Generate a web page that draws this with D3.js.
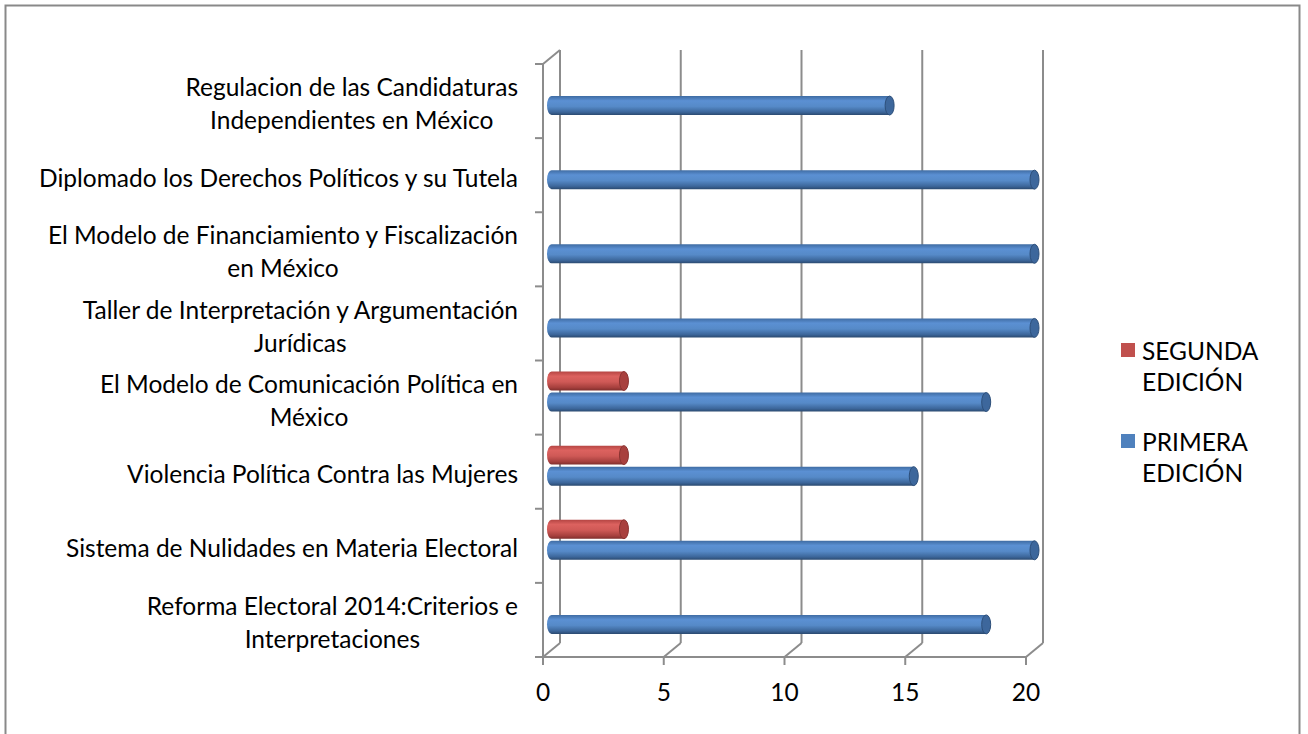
<!DOCTYPE html>
<html>
<head>
<meta charset="utf-8">
<script src="https://cdn.jsdelivr.net/npm/d3@7"></script>
<style>
  html, body { margin: 0; padding: 0; background: #fff; }
  svg text { font-family: Lato, "Open Sans", sans-serif; fill: #000; }
</style>
</head>
<body>
<div id="chart"></div>
<script>
// categories, top to bottom as they appear
const categories = [
  "Regulacion de las Candidaturas Independientes en México",
  "Diplomado los Derechos Políticos y su Tutela",
  "El Modelo de Financiamiento y Fiscalización en México",
  "Taller de Interpretación y Argumentación Jurídicas",
  "El Modelo de Comunicación Política en México",
  "Violencia Política Contra las Mujeres",
  "Sistema de Nulidades en Materia Electoral",
  "Reforma Electoral 2014:Criterios e Interpretaciones"
];
const primera = [14, 20, 20, 20, 18, 15, 20, 18];
const segunda = [0, 0, 0, 0, 3, 3, 3, 0];
const seriesNames = ["SEGUNDA EDICIÓN", "PRIMERA EDICIÓN"];
const xTicks = [0, 5, 10, 15, 20];

const W = 1308, H = 734;
const fontSize = 24.5;
const depth = { dx: 17, dy: -14 };

const svg = d3.select("#chart").append("svg")
  .attr("width", W).attr("height", H);

// outer chart border (bottom edge falls outside the frame)
svg.append("rect")
  .attr("x", 5.5).attr("y", 5.5).attr("width", 1294).attr("height", 800)
  .attr("fill", "none").attr("stroke", "#898989").attr("stroke-width", 2);

const x = d3.scaleLinear().domain([0, 20]).range([543, 1026]);
const y = d3.scaleBand().domain(categories).range([64, 657]);
// position of the two series inside a category band
const ySub = d3.scaleBand().domain(["segunda", "primera"]).range([11, 51]).paddingInner(0.1);

const defs = svg.append("defs");
function cylGrad(id, stops) {
  const g = defs.append("linearGradient").attr("id", id)
    .attr("x1", 0).attr("y1", 0).attr("x2", 0).attr("y2", 1);
  stops.forEach(s => g.append("stop").attr("offset", s[0]).attr("stop-color", s[1]));
}
cylGrad("gBlue", [[0, "#3f6ca3"], [0.25, "#5b90d3"], [0.55, "#568ac8"], [0.85, "#3c669a"], [1, "#2b4a70"]]);
cylGrad("gRed", [[0, "#b54543"], [0.25, "#dc625f"], [0.55, "#cf5956"], [0.85, "#a53f3d"], [1, "#7f2e2c"]]);

const grid = svg.append("g").attr("stroke", "#8c8c8c").attr("stroke-width", 2).attr("fill", "none");
const yTop = y.range()[0], yBot = y.range()[1];

// back wall gridlines
grid.selectAll(".vg").data(xTicks).join("line")
  .attr("x1", d => x(d) + depth.dx).attr("x2", d => x(d) + depth.dx)
  .attr("y1", yTop + depth.dy).attr("y2", yBot + depth.dy);
// floor diagonals
grid.selectAll(".fd").data(xTicks).join("line")
  .attr("x1", d => x(d)).attr("y1", yBot)
  .attr("x2", d => x(d) + depth.dx).attr("y2", yBot + depth.dy);
// floor front edge and value ticks
grid.append("line").attr("x1", x(0)).attr("x2", x(20)).attr("y1", yBot).attr("y2", yBot);
grid.selectAll(".xt").data(xTicks).join("line")
  .attr("x1", d => x(d)).attr("x2", d => x(d)).attr("y1", yBot).attr("y2", yBot + 8);
// side wall front edge, top edge, category ticks
grid.append("line").attr("x1", x(0)).attr("x2", x(0)).attr("y1", yTop).attr("y2", yBot);
grid.append("line").attr("x1", x(0)).attr("y1", yTop)
  .attr("x2", x(0) + depth.dx).attr("y2", yTop + depth.dy);
const bounds = categories.map(c => y(c)).concat([yBot]);
grid.selectAll(".yt").data(bounds).join("line")
  .attr("x1", x(0) - 8).attr("x2", x(0)).attr("y1", d => d).attr("y2", d => d);

// cylinders
const rows = categories.map((c, i) => ({ c, primera: primera[i], segunda: segunda[i] }));
const barsData = [];
rows.forEach(r => {
  if (r.segunda > 0) barsData.push({ c: r.c, key: "segunda", v: r.segunda });
  if (r.primera > 0) barsData.push({ c: r.c, key: "primera", v: r.primera });
});
const h = ySub.bandwidth(), rx = 4.5;
const mid = depth.dx / 2;
const bars = svg.append("g").selectAll("g").data(barsData).join("g");
bars.append("path")
  .attr("d", d => {
    const x0 = x(0) + mid, x1 = x(d.v) + mid, yt = y(d.c) + ySub(d.key);
    return `M${x0},${yt} L${x1},${yt} L${x1},${yt + h} L${x0},${yt + h} A${rx},${h / 2} 0 0 1 ${x0},${yt} Z`;
  })
  .attr("fill", d => d.key === "primera" ? "url(#gBlue)" : "url(#gRed)");
bars.append("ellipse")
  .attr("cx", d => x(d.v) + mid)
  .attr("cy", d => y(d.c) + ySub(d.key) + h / 2)
  .attr("rx", rx).attr("ry", h / 2)
  .attr("fill", d => d.key === "primera" ? "#3d679c" : "#a8403e")
  .attr("stroke", d => d.key === "primera" ? "#2d4f7a" : "#8a3331")
  .attr("stroke-width", 1);

// value axis labels
svg.append("g").selectAll("text").data(xTicks).join("text")
  .attr("x", d => x(d)).attr("y", 701)
  .attr("text-anchor", "middle").attr("font-size", fontSize)
  .text(d => d);

// category labels, wrapped and centred like the original
const maxW = 500, labelRight = 518;
const labels = svg.append("g").selectAll("text").data(categories).join("text")
  .attr("text-anchor", "middle").attr("font-size", fontSize);
labels.each(function (c) {
  const t = d3.select(this);
  const words = c.split(" ");
  const lines = [];
  let line = [];
  const probe = t.append("tspan");
  const measure = s => { probe.text(s); return this.getComputedTextLength(); };
  words.forEach(w => {
    const test = line.concat([w]).join(" ");
    if (measure(test) > maxW && line.length) {
      lines.push(line.join(" "));
      line = [w];
    } else line = line.concat([w]);
  });
  lines.push(line.join(" "));
  const blockW = d3.max(lines, measure);
  probe.remove();
  const lh = 33;
  const cy = y(c) + y.bandwidth() / 2 + 3;
  lines.forEach((l, i) => {
    t.append("tspan").attr("x", labelRight - blockW / 2)
      .attr("y", cy - (lines.length - 1) * lh / 2 + i * lh)
      .attr("dy", "0.35em").text(l);
  });
});

// legend
const legend = svg.append("g").attr("font-size", fontSize);
const legendItems = [
  { name: seriesNames[0], color: "#c0504d", y: 343 },
  { name: seriesNames[1], color: "#4f81bd", y: 434 }
];
legendItems.forEach(it => {
  legend.append("rect").attr("x", 1121).attr("y", it.y).attr("width", 14).attr("height", 14)
    .attr("fill", it.color);
  const words = it.name.split(" ");
  const t = legend.append("text");
  words.forEach((w, i) => {
    t.append("tspan").attr("x", 1142).attr("y", it.y + 8 + i * 31).attr("dy", "0.35em").text(w);
  });
});
</script>
</body>
</html>
